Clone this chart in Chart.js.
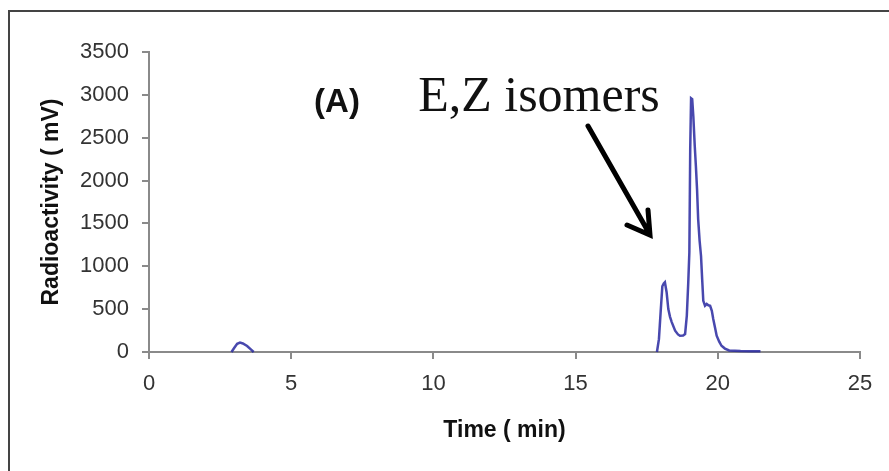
<!DOCTYPE html>
<html>
<head>
<meta charset="utf-8">
<script src="https://cdn.jsdelivr.net/npm/chart.js@4.4.1/dist/chart.umd.min.js"></script>
<style>
  html, body { margin: 0; padding: 0; background: #fff; }
  #wrap { width: 889px; height: 471px; position: relative; }
</style>
</head>
<body>
<div id="wrap"><canvas id="hplc"></canvas></div>
<script>
// данные хроматограммы (время в минутах, сигнал в мВ), прочитаны с картинки
// null в середине — разрыв линии между пиками
const timeMin = [
  2.9, 3.0, 3.1, 3.2, 3.3, 3.45, 3.6, 3.68,
  null,
  17.86, 17.93, 17.99, 18.05, 18.1, 18.14, 18.2, 18.26, 18.32, 18.38, 18.5, 18.6, 18.67, 18.78, 18.85,
  18.91, 18.96, 19.0, 19.03, 19.06, 19.1, 19.14, 19.19, 19.23, 19.27, 19.31, 19.36, 19.41, 19.45, 19.49,
  19.55, 19.61, 19.67, 19.73, 19.79, 19.84, 19.9, 19.96, 20.05, 20.13, 20.25, 20.4, 20.8, 21.2, 21.5
];
const signalMv = [
  0, 50, 95, 110, 100, 70, 25, 0,
  null,
  0, 150, 465, 767, 800, 814, 698, 500, 410, 349, 248, 205, 190, 192, 209,
  422, 800, 1163, 2360, 2960, 2950, 2748, 2400, 2166, 1900, 1547, 1300, 1120, 850, 597,
  540, 560, 545, 539, 480, 384, 290, 190, 120, 73, 40, 18, 12, 10, 8
];
const xTicks = [0, 5, 10, 15, 20, 25];
const yTicks = [0, 500, 1000, 1500, 2000, 2500, 3000, 3500];

const points = timeMin.map((t, i) => ({ x: t === null ? NaN : t, y: signalMv[i] }));

const axisGray = '#8a8a8a';
const sans = "'Liberation Sans', Arial, sans-serif";

// рамка, подпись (A), надпись и стрелка
const decor = {
  id: 'decor',
  afterDraw(chart) {
    const c = chart.ctx;
    c.save();
    // рамка вокруг рисунка (видны только левая и верхняя стороны)
    c.strokeStyle = '#444';
    c.lineWidth = 2;
    c.beginPath();
    c.moveTo(9, 471);
    c.lineTo(9, 11);
    c.lineTo(889, 11);
    c.stroke();

    c.fillStyle = '#111';
    c.font = "bold 33px " + sans;
    c.textAlign = 'center';
    c.textBaseline = 'middle';
    c.fillText('(A)', 337, 103);

    c.font = "50px 'Liberation Serif', 'Times New Roman', serif";
    c.textBaseline = 'alphabetic';
    c.fillText('E,Z isomers', 539, 111);

    // стрелка
    c.strokeStyle = '#000';
    c.lineWidth = 5;
    c.lineCap = 'round';
    c.beginPath();
    c.moveTo(588, 126);
    c.lineTo(649, 233);
    c.moveTo(627, 225);
    c.lineTo(650, 235);
    c.lineTo(648, 210);
    c.stroke();
    c.restore();
  }
};

new Chart(document.getElementById('hplc'), {
  type: 'scatter',
  data: {
    datasets: [{
      data: points,
      showLine: true,
      spanGaps: false,
      borderColor: 'rgba(40, 40, 160, 0.85)',
      borderWidth: 2.5,
      pointRadius: 0,
      tension: 0,
      clip: false
    }]
  },
  options: {
    responsive: true,
    maintainAspectRatio: false,
    animation: false,
    layout: { padding: { top: 52, right: 29, left: 0, bottom: 0 } },
    plugins: { legend: { display: false }, tooltip: { enabled: false } },
    scales: {
      x: {
        type: 'linear',
        min: 0, max: 25,
        afterFit(s) { s.height = 119; },
        afterBuildTicks(s) { s.ticks = xTicks.map(v => ({ value: v })); },
        border: { color: axisGray, width: 2 },
        grid: { drawOnChartArea: false, drawTicks: true, tickLength: 7, color: axisGray, lineWidth: 2 },
        ticks: {
          color: '#333', padding: 12, maxRotation: 0,
          font: { family: sans, size: 22 },
          callback: v => String(v)
        },
        title: {
          display: true, text: 'Time ( min)', color: '#111',
          padding: { top: 0, bottom: 27 },
          font: { family: sans, size: 23, weight: 'bold' }
        }
      },
      y: {
        min: 0, max: 3500,
        afterFit(s) { s.width = 149; },
        afterBuildTicks(s) { s.ticks = yTicks.map(v => ({ value: v })); },
        border: { color: axisGray, width: 2 },
        grid: { drawOnChartArea: false, drawTicks: true, tickLength: 7, color: axisGray, lineWidth: 2 },
        ticks: {
          color: '#333', padding: 13,
          font: { family: sans, size: 22 },
          callback: v => String(v)
        },
        title: {
          display: true, text: 'Radioactivity ( mV)', color: '#111',
          padding: { top: 38, bottom: 0 },
          font: { family: sans, size: 23, weight: 'bold' }
        }
      }
    }
  },
  plugins: [decor]
});
</script>
</body>
</html>
